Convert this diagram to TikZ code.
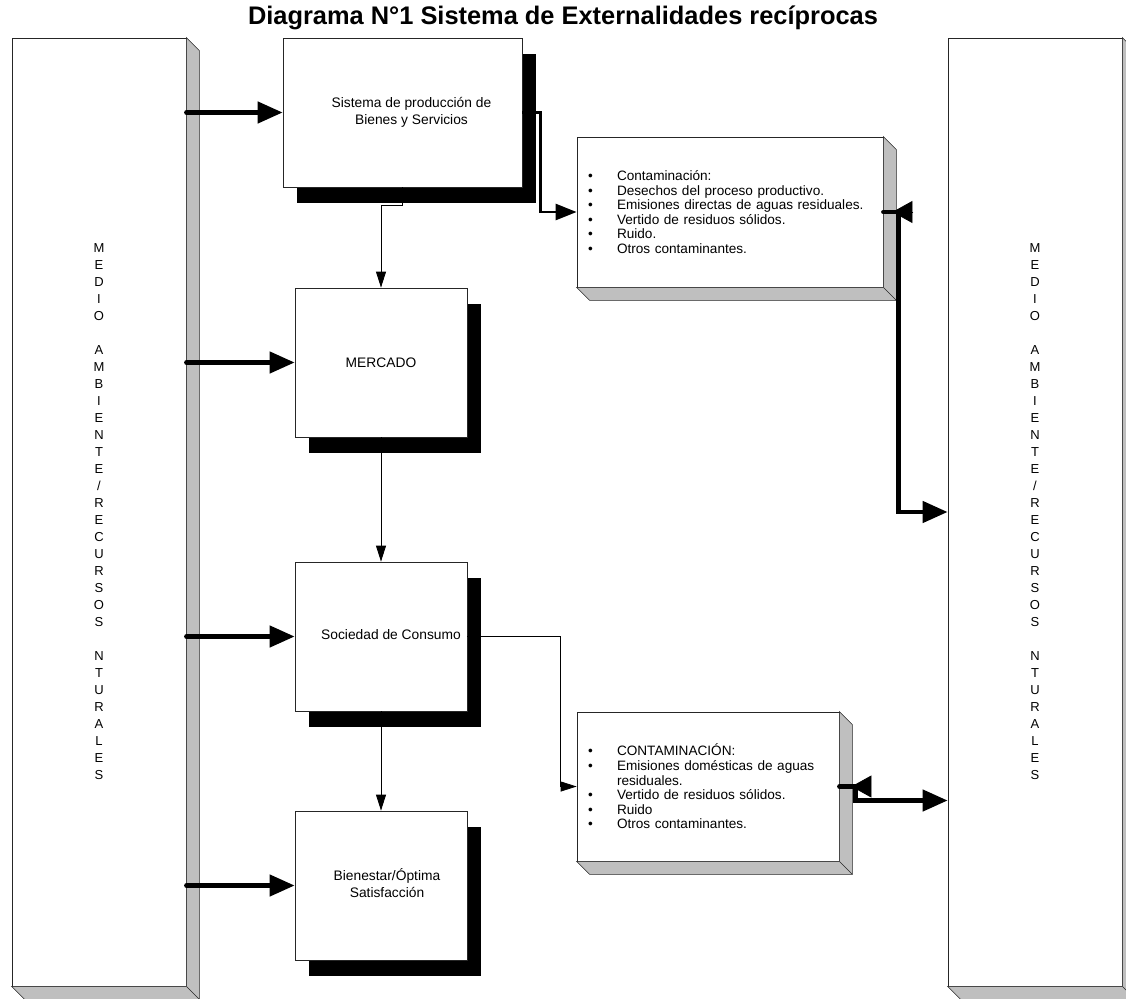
\documentclass[tikz,border=0pt]{standalone}
\usepackage{fontspec}
\setmainfont{Liberation Sans}
\usetikzlibrary{arrows.meta,calc,shadows}
\tikzset{every picture/.style={line width=0.75pt}}
\newcommand\medioletters{M\\E\\D\\I\\O\\[17pt]A\\M\\B\\I\\E\\N\\T\\E\\/\\R\\E\\C\\U\\R\\S\\O\\S\\[17pt]N\\T\\U\\R\\A\\L\\E\\S}
\newcommand\itm{\makebox[29pt][l]{•}}
\newcommand\boxtext[2]{\hspace*{#1}\begin{tabular}{@{}c@{}}#2\end{tabular}}

\begin{document}
\begin{tikzpicture}[x=1pt,y=-1pt,font=\fontsize{13.6}{14.6}\selectfont,
    pillar/.style={draw=black!85,fill=white,minimum width=174pt,minimum height=948pt,inner sep=0pt,align=center,font=\fontsize{13}{17}\selectfont},
    slab/.style={draw=black!85,fill=white,inner sep=0pt,align=left},
    shadowbox/.style={draw=black!85,fill=white,inner sep=0pt,minimum width=172pt,minimum height=149pt,font=\fontsize{13.8}{16.5}\selectfont,
      drop shadow={shadow xshift=14pt,shadow yshift=-16pt,fill=black,opacity=1}},
    feed/.style={line width=4.5pt,line cap=round,-{Triangle[length=25pt,width=21pt]}},
    flow/.style={draw=black,line width=0.8pt,-{Triangle[length=16pt,width=10pt]}},
    emit/.style={line width=2.5pt,-{Triangle[length=21pt,width=16pt]}},
    back/.style={-{Triangle[length=20pt,width=22pt]}}]
  \useasboundingbox (0,0) rectangle (1126,998);

  \node[font=\bfseries\fontsize{25.4}{30}\selectfont] (title) at (563,18) {Diagrama N°1 Sistema de Externalidades recíprocas};

  % medio ambiente, a ambos lados
  \node[pillar] (lpil) at (99,512) {\medioletters};
  \node[pillar] (rpil) at (1035,512) {\medioletters};

  % contaminacion
  \node[slab,minimum width=306pt,minimum height=150pt,text width=284pt] (cont) at (730,212)
    {\itm Contaminación:\\\itm Desechos del proceso productivo.\\\itm Emisiones directas de aguas residuales.\\
     \itm Vertido de residuos sólidos.\\\itm Ruido.\\\itm Otros contaminantes.};
  \node[slab,minimum width=262pt,minimum height=149pt,text width=240pt] (dom) at (708,786.5)
    {\itm CONTAMINACIÓN:\\\itm Emisiones domésticas de aguas\\\hspace*{29pt}residuales.\\
     \itm Vertido de residuos sólidos.\\\itm Ruido\\\itm Otros contaminantes.};

  \foreach \n in {lpil,rpil,cont,dom}{
    \filldraw[fill=black!25,draw=black!85,line width=0.6pt] (\n.north east) -- ++(13,13) |- ($(\n.south west)+(13,13)$)
      -- (\n.south west) -| (\n.north east) -- cycle;
    \draw[black!85,line width=0.6pt] (\n.south east) -- ++(13,13);
  }

  % cadena principal
  \node[shadowbox,minimum width=239pt] (sys) at (402.5,112.5) {\boxtext{18pt}{Sistema de producción de\\Bienes y Servicios}};
  \node[shadowbox] (merc) at (381,362.5) {MERCADO};
  \node[shadowbox] (cons) at (381,636.5) {\boxtext{20pt}{Sociedad de Consumo}};
  \node[shadowbox] (bien) at (381,885.5) {\boxtext{12pt}{Bienestar/Óptima\\Satisfacción}};

  \foreach \b in {sys,merc,cons,bien}
    \draw[feed] (lpil.east |- \b.west) -- (\b.west);

  \draw[flow] (sys.south) -- ++(0,18) -| (merc.north);
  \draw[flow] (merc.south) -- (cons.north);
  \draw[flow] (cons.south) -- (bien.north);
  \draw[flow] (cons.east) -- ++(93,0) |- (dom.west);
  \draw[emit] (sys.east) -- ++(18,0) |- (cont.west);

  \draw[feed] (cont.east) -- ++(15,0) |- (rpil.west);
  \draw[feed] (dom.east) -- ++(16,0) |- ([yshift=-14pt]dom.east -| rpil.west);
  \draw[back] ($(cont.east)+(30,0)$) -- ($(cont.east)+(9,0)$);
  \draw[back] ($(dom.east)+(30,0)$) -- ($(dom.east)+(12,0)$);
\end{tikzpicture}
\end{document}
